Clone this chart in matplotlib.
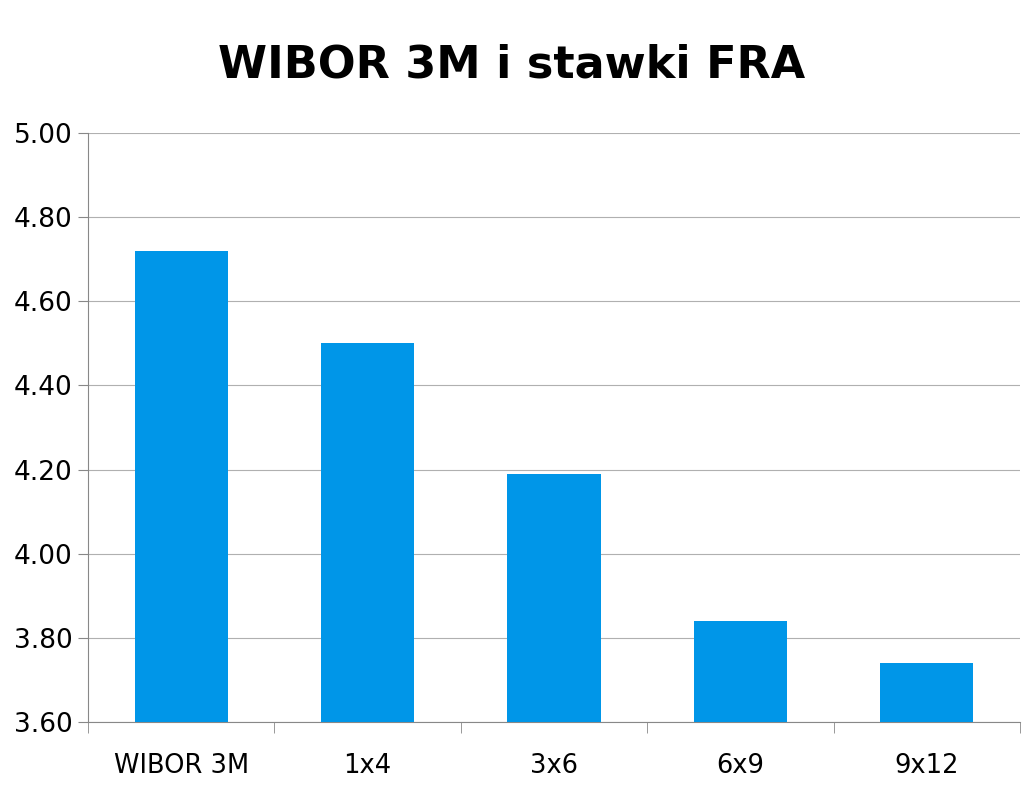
import numpy as np
import matplotlib
matplotlib.use("Agg")
import matplotlib.pyplot as plt

categories = ["WIBOR 3M", "1x4", "3x6", "6x9", "9x12"]
rates = [4.72, 4.50, 4.19, 3.84, 3.74]
y_ticks = [3.60, 3.80, 4.00, 4.20, 4.40, 4.60, 4.80, 5.00]

plt.rcParams['font.family'] = ['Verdana', 'DejaVu Sans']

fig = plt.figure(figsize=(10.24, 7.91), dpi=100)
ax = fig.add_axes([88 / 1024, 1 - 722 / 791, (1020 - 88) / 1024, (722 - 133) / 791])

x = np.arange(len(categories))
ax.bar(x, rates, width=0.5, color="#0096E8", zorder=3)

ax.set_ylim(3.60, 5.00)
ax.set_xlim(-0.5, len(categories) - 0.5)
ax.set_yticks(y_ticks)
ax.set_yticklabels([f"{v:.2f}" for v in y_ticks], fontsize=19)
ax.yaxis.grid(True, color="#b0b0b0", lw=0.8, zorder=0)

# category labels centred, tick marks between categories
ax.set_xticks(x)
ax.set_xticklabels(categories, fontsize=18.5)
ax.tick_params(axis="x", length=0, pad=22)
ax.set_xticks(np.arange(-0.5, len(categories)), minor=True)
ax.tick_params(axis="x", which="minor", length=8, color="#888888", direction="out")
ax.tick_params(axis="y", length=7, color="#888888", pad=4)

for side in ["top", "right"]:
    ax.spines[side].set_visible(False)
for side in ["left", "bottom"]:
    ax.spines[side].set_color("#888888")

fig.text(0.5, 1 - 65 / 791, "WIBOR 3M i stawki FRA", ha="center", va="center",
         fontsize=32, fontweight="heavy")

fig.savefig("out.png", dpi=100)
